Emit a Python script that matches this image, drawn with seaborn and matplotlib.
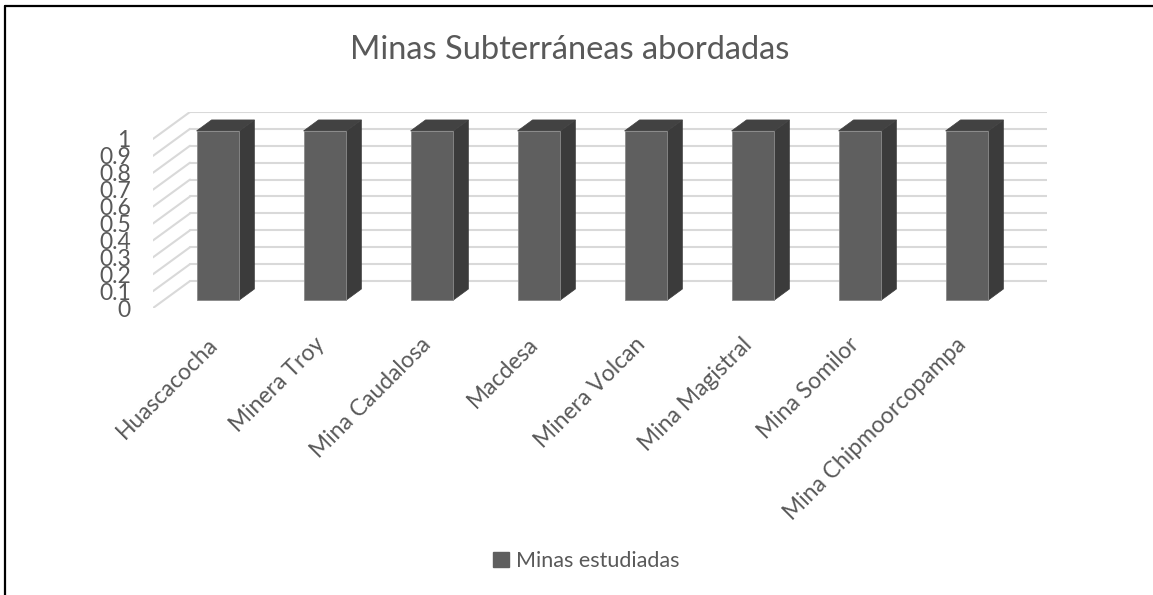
import numpy as np
import pandas as pd
import matplotlib
matplotlib.use("Agg")
import matplotlib.pyplot as plt
import seaborn as sns
from matplotlib.patches import Polygon, Patch
from matplotlib.lines import Line2D
import matplotlib.transforms as mtrans

# ---- data ----
categories = ["Huascacocha", "Minera Troy", "Mina Caudalosa", "Macdesa",
              "Minera Volcan", "Mina Magistral", "Mina Somilor", "Mina Chipmoorcopampa"]
values = [1, 1, 1, 1, 1, 1, 1, 1]
series_name = "Minas estudiadas"
title = "Minas Subterráneas abordadas"
y_ticks = [0, 0.1, 0.2, 0.3, 0.4, 0.5, 0.6, 0.7, 0.8, 0.9, 1]
y_tick_labels = ["0", "0.1", "0.2", "0.3", "0.4", "0.5", "0.6", "0.7", "0.8", "0.9", "1"]

sns.set_theme(style="white")
plt.rcParams['font.family'] = ['Lato', 'DejaVu Sans']

W, H, DPI = 1153, 595, 100
fig = plt.figure(figsize=(W / DPI, H / DPI), dpi=DPI)
fig.patch.set_facecolor("white")

# axes in pixel geometry
ax_l, ax_r, ax_t, ax_b = 153, 1047, 112, 308
ax = fig.add_axes([ax_l / W, 1 - ax_b / H, (ax_r - ax_l) / W, (ax_b - ax_t) / H])
ax.set_facecolor("none")

df = pd.DataFrame({"cat": categories, "val": values})
sns.barplot(data=df, x="cat", y="val", color="#5f5f5f", width=0.40, ax=ax,
            saturation=1, edgecolor="#8a8a8a", linewidth=0.6, zorder=3)

ax.set_xlim(-0.607, 7.748)
ax.set_ylim(-0.047, 1.112)

# pixel -> data conversions
px_x = (ax_r - ax_l) / (7.748 + 0.607)      # px per x unit
px_y = (ax_b - ax_t) / (1.112 + 0.047)      # px per y unit
def dxp(p): return p / px_x
def dyp(p): return p / px_y

text_col = "#595959"
grid_col = "#d9d9d9"

# 3D-looking gridlines (back wall + floor diagonals)
x0 = ax.get_xlim()[0]
x1 = ax.get_xlim()[1]
back_dx, back_dy = 37, 19     # pixels from front edge / bar plane
front_dy = -8
for v in y_ticks:
    yb = v + dyp(back_dy)
    yf = v + dyp(front_dy)
    ax.add_line(Line2D([x0 + dxp(back_dx), x1], [yb, yb], color=grid_col, lw=1.5, zorder=1))
    ax.add_line(Line2D([x0, x0 + dxp(back_dx)], [yf, yb], color=grid_col, lw=1.5, zorder=1))

# bar depth faces
ddx, ddy = dxp(15), dyp(11)
for p in ax.patches:
    x, w, h = p.get_x(), p.get_width(), p.get_height()
    side = Polygon([[x + w, 0], [x + w + ddx, ddy], [x + w + ddx, h + ddy], [x + w, h]],
                   closed=True, facecolor="#3b3b3b", edgecolor="#3b3b3b", lw=0.5, zorder=2.9)
    top = Polygon([[x, h], [x + ddx, h + ddy], [x + w + ddx, h + ddy], [x + w, h]],
                  closed=True, facecolor="#424242", edgecolor="#424242", lw=0.5, zorder=2.9)
    ax.add_patch(side)
    ax.add_patch(top)

for s in ax.spines.values():
    s.set_visible(False)
ax.grid(False)
ax.set_xlabel("")
ax.set_ylabel("")

# y ticks
ax.set_yticks(y_ticks)
ax.set_yticklabels(y_tick_labels, fontsize=16.5, color=text_col)
ax.tick_params(axis="y", length=0, pad=16)
for lab in ax.get_yticklabels():
    lab.set_transform(lab.get_transform() + mtrans.ScaledTranslation(0, front_dy / DPI, fig.dpi_scale_trans))

# x ticks
ax.set_xticks(range(len(categories)))
ax.set_xticklabels(categories, rotation=45, ha="right", va="center",
                   rotation_mode="anchor", fontsize=16.5, color=text_col)
ax.tick_params(axis="x", length=0, pad=24)
for lab in ax.get_xticklabels():
    lab.set_transform(lab.get_transform() + mtrans.ScaledTranslation(-4 / DPI, 0, fig.dpi_scale_trans))

# title
fig.text(570 / W, 1 - 50 / H, title, ha="center", va="center", fontsize=23.5, color=text_col)

# legend
handle = Patch(facecolor="#5f5f5f", edgecolor="#5f5f5f")
fig.legend([handle], [series_name], loc="center", bbox_to_anchor=(586 / W, 1 - 561 / H),
           frameon=False, fontsize=15.5, handlelength=0.75, handleheight=0.75,
           handletextpad=0.3, labelcolor=text_col)

# outer frame (top and left edges)
fig.add_artist(Line2D([5 / W, 5 / W], [0, 1 - 6 / H], color="black", lw=1.6, transform=fig.transFigure))
fig.add_artist(Line2D([5 / W, 1], [1 - 6 / H, 1 - 6 / H], color="black", lw=1.6, transform=fig.transFigure))

fig.savefig("out.png", dpi=DPI, facecolor="white")
